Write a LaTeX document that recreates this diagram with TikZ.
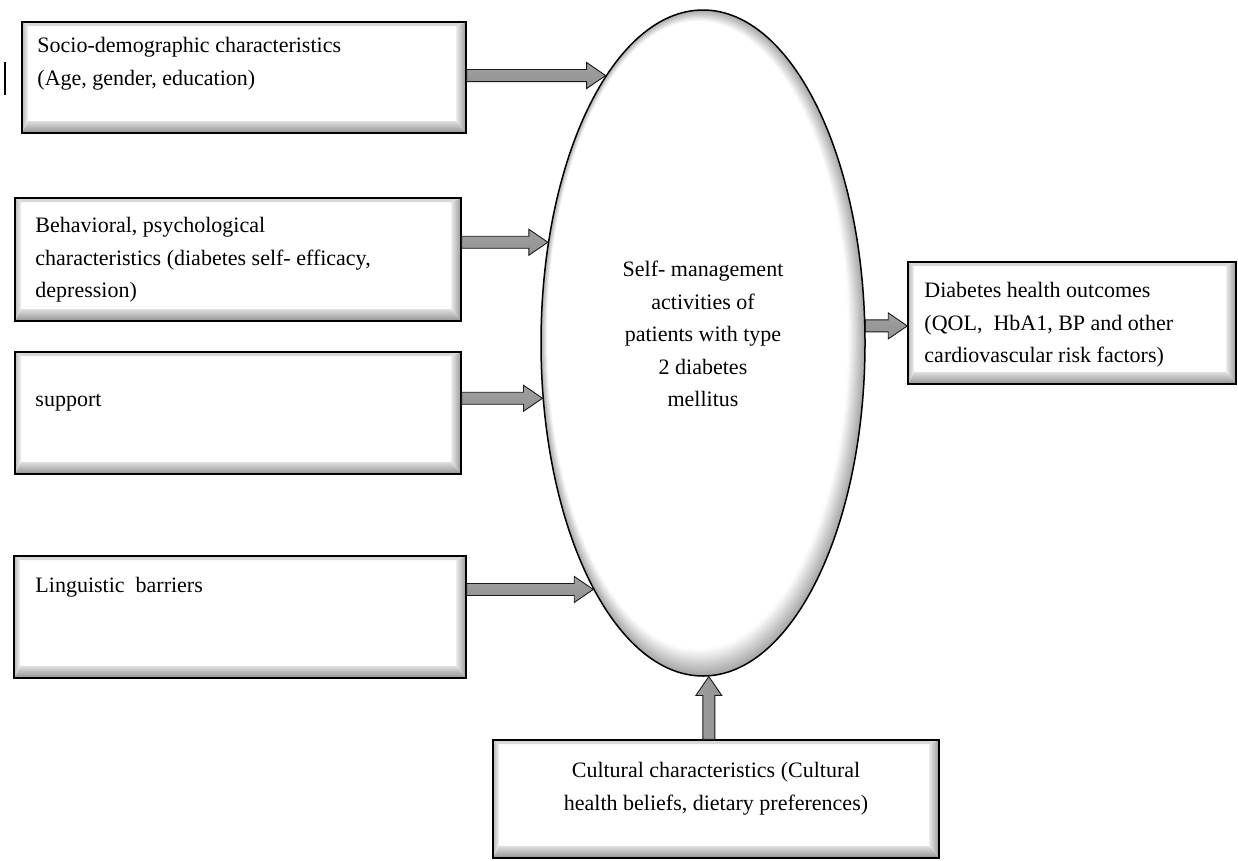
\documentclass[tikz,border=0pt]{standalone}
\usepackage{fontspec}
\setmainfont{Liberation Serif}
\usepackage{tikz}
\usetikzlibrary{calc}
\usetikzlibrary{shapes.geometric}

\tikzset{
  txt/.style={font=\fontsize{22}{32.5}\selectfont, inner sep=0pt, align=left, anchor=north west},
  bevelbox/.style={draw=black, line width=1.5pt, fill=white, inner sep=0pt,
    path picture={
      \path (path picture bounding box.south west) coordinate (bsw)
            (path picture bounding box.south east) coordinate (bse)
            (path picture bounding box.north east) coordinate (bne)
            (path picture bounding box.north west) coordinate (bnw);
      \shade[top color=gray!25, bottom color=gray!85]
        (bsw) -- (bse) -- ([shift={(-10pt,12pt)}]bse) -- ([shift={(6pt,12pt)}]bsw) -- cycle;
      \shade[left color=gray!15, right color=gray!80]
        (bne) -- (bse) -- ([shift={(-10pt,12pt)}]bse) -- ([shift={(-10pt,-4pt)}]bne) -- cycle;
      \shade[left color=gray!55, right color=gray!10]
        (bsw) -- (bnw) -- ([shift={(6pt,-4pt)}]bnw) -- ([shift={(6pt,12pt)}]bsw) -- cycle;
      \fill[gray!30] (bnw) -- (bne) -- ([shift={(-10pt,-4pt)}]bne) -- ([shift={(6pt,-4pt)}]bnw) -- cycle;
    }},
  ringbox/.style={draw=black, line width=1.5pt, fill=white, ellipse,
    path picture={
      \foreach \k in {0,...,13}{
        \pgfmathsetmacro\g{max(0,68-5.5*\k)}
        \fill[gray!\g!white] ($(path picture bounding box.center)+({-0.4pt*\k},{0.6pt*\k})$)
          ellipse [x radius={162pt-0.9pt*\k}, y radius={333pt-1.5pt*\k}];
      }
    }},
  blockarrow/.style={draw=black!90, line width=0.9pt, shading=axis,
    top color=gray!75, middle color=gray!5, bottom color=gray!85,
    to path={
      ($(\tikztotarget)!19pt!(\tikztostart)$) coordinate (hb)
      ($(\tikztostart)!6pt!90:(\tikztotarget)$) -- ($(hb)!6pt!-90:(\tikztostart)$)
      -- ($(hb)!13pt!-90:(\tikztostart)$) -- (\tikztotarget)
      -- ($(hb)!13pt!90:(\tikztostart)$) -- ($(hb)!6pt!90:(\tikztostart)$)
      -- ($(\tikztostart)!6pt!-90:(\tikztotarget)$) -- cycle}}
}

\begin{document}
\begin{tikzpicture}[x=1pt,y=-1pt]
  \useasboundingbox (0,0) rectangle (1238,860);
  \draw[line width=1.5pt] (5,62) -- (5,95);

  \node[bevelbox, minimum width=444pt, minimum height=111pt] (socio) at (244,77.5) {};
  \node[bevelbox, minimum width=446pt, minimum height=123pt] (behav) at (238,259.5) {};
  \node[bevelbox, minimum width=446pt, minimum height=122pt] (support) at (238,413) {};
  \node[bevelbox, minimum width=452pt, minimum height=122pt] (ling) at (240,617) {};
  \node[bevelbox, minimum width=328pt, minimum height=122pt] (outcome) at (1072,323) {};
  \node[bevelbox, minimum width=446pt, minimum height=118pt] (cult) at (716,799) {};

  \node[ringbox, minimum width=324pt, minimum height=666pt] (ell) at (703,343) {};

  \node[txt] (sociotxt) at ([shift={(16pt,-16pt)}]socio.north west)
    {Socio-demographic characteristics\\(Age,\ gender, education)};
  \node[txt] (behavtxt) at ([shift={(21pt,-20pt)}]behav.north west)
    {Behavioral, psychological\\characteristics (diabetes self- efficacy,\\depression)};
  \node[txt] (supporttxt) at ([shift={(21pt,-43pt)}]support.north west) {support};
  \node[txt] (lingtxt) at ([shift={(22pt,-22pt)}]ling.north west) {Linguistic\ \ barriers};
  \node[txt] (outcometxt) at ([shift={(17pt,-21pt)}]outcome.north west)
    {Diabetes health outcomes\\(QOL,\ \ HbA1, BP and other\\cardiovascular risk factors)};
  \node[txt, align=center, anchor=north] (culttxt) at ([yshift=-23pt]cult.north)
    {Cultural characteristics (Cultural\\health beliefs, dietary preferences)};
  \node[txt, align=center, anchor=center] (selftxt) at (703,334)
    {Self- management\\activities of\\patients with type\\2 diabetes\\mellitus};

  \draw[blockarrow] (socio.east |- ell.110) to (ell.110);
  \draw[blockarrow] (behav.east |- ell.147.1) to (ell.147.1);
  \draw[blockarrow] (support.east |- ell.199.6) to (ell.199.6);
  \draw[blockarrow] (ling.east |- ell.246.3) to (ell.246.3);
  \draw[blockarrow] (ell.6.4) to (outcome.west |- ell.6.4);
  \draw[blockarrow, shading angle=90] (cult.north -| ell.271.7) to (ell.271.7);
\end{tikzpicture}
\end{document}
